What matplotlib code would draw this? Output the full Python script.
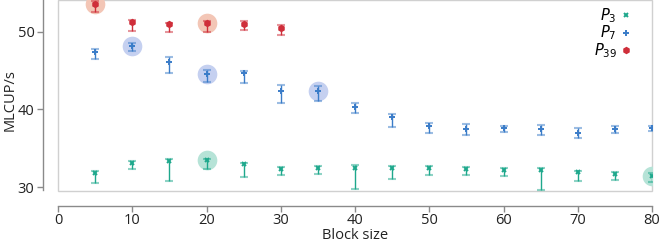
import matplotlib
matplotlib.use("Agg")
import matplotlib.pyplot as plt
from matplotlib.patches import Rectangle
import numpy as np

plt.rcParams['font.family'] = ['Open Sans', 'DejaVu Sans']

# Data
x_p3 = [5, 10, 15, 20, 25, 30, 35, 40, 45, 50, 55, 60, 65, 70, 75, 80]
p3_mean = [31.84, 33.08, 33.42, 33.47, 32.96, 32.35, 32.52, 32.52, 32.52, 32.44, 32.35, 32.26, 32.18, 31.93, 31.71, 31.45]
p3_lo = [30.51, 32.31, 30.81, 32.31, 31.36, 31.54, 31.75, 29.82, 31.10, 31.62, 31.54, 31.41, 29.65, 30.81, 30.94, 30.72]
p3_hi = [32.10, 33.34, 33.64, 33.68, 33.12, 32.65, 32.78, 32.90, 32.78, 32.78, 32.60, 32.52, 32.48, 32.13, 31.97, 31.80]

x_p7 = [5, 10, 15, 20, 25, 30, 35, 40, 45, 50, 55, 60, 65, 70, 75, 80]
p7_mean = [47.43, 48.20, 46.10, 44.52, 44.65, 42.38, 42.38, 40.32, 38.99, 37.92, 37.49, 37.58, 37.49, 36.94, 37.49, 37.62]
p7_lo = [46.45, 47.52, 44.73, 43.50, 43.40, 40.87, 41.10, 39.55, 37.71, 36.94, 36.76, 37.15, 36.72, 36.34, 36.94, 37.20]
p7_hi = [47.74, 48.59, 46.75, 45.08, 44.95, 43.15, 42.98, 40.83, 39.42, 38.26, 38.14, 37.88, 38.00, 37.62, 37.88, 37.92]

x_p39 = [5, 10, 15, 20, 25, 30]
p39_mean = [53.55, 51.20, 50.95, 51.08, 50.99, 50.47]
p39_lo = [52.55, 50.10, 49.90, 50.00, 50.20, 49.60]
p39_hi = [54.00, 51.50, 51.10, 51.40, 51.37, 50.86]

# highlighted points
hl_p3 = [20, 80]
hl_p7 = [10, 20, 35]
hl_p39 = [5, 20]

x_ticks = [0, 10, 20, 30, 40, 50, 60, 70, 80]
y_ticks = [30, 40, 50]

c3, c7, c39 = '#1ea88c', '#3a7cc8', '#cf2e3a'
h3, h7, h39 = '#b6e3d7', '#c5d0f0', '#f3c6b6'

fig = plt.figure(figsize=(6.64, 2.43), dpi=100)
ax = fig.add_axes([58/664, 52/243, 594/664, 191/243])
ax.set_xlim(0, 80)
ax.set_ylim(29.52, 54.07)

def highlight(xs, hx, means, col):
    hx_vals = [m for xv, m in zip(xs, means) if xv in hx]
    ax.scatter(hx, hx_vals, s=200, color=col, zorder=1, linewidths=0)

highlight(x_p3, hl_p3, p3_mean, h3)
highlight(x_p7, hl_p7, p7_mean, h7)
highlight(x_p39, hl_p39, p39_mean, h39)

def series(xs, m, lo, hi, col, marker, label, ms):
    m = np.array(m); lo = np.array(lo); hi = np.array(hi)
    err = np.vstack([m - lo, hi - m])
    ax.errorbar(xs, m, yerr=err, fmt='none', ecolor=col, elinewidth=1.0,
                capsize=0, zorder=2)
    # light caps
    ax.scatter(xs, lo, marker='_', s=30, color=col, alpha=0.5, linewidths=1.5, zorder=2)
    ax.scatter(xs, hi, marker='_', s=30, color=col, alpha=0.5, linewidths=1.5, zorder=2)
    ax.plot(xs, m, linestyle='none', marker=marker, color=col, ms=ms, mew=1.4,
            label=label, zorder=3)

series(x_p3, p3_mean, p3_lo, p3_hi, c3, 'x', r'$P_3$', 3.5)
series(x_p7, p7_mean, p7_lo, p7_hi, c7, '+', r'$P_7$', 4.5)
series(x_p39, p39_mean, p39_lo, p39_hi, c39, 'h', r'$P_{39}$', 3.8)

# frame
for s in ['top', 'right']:
    ax.spines[s].set_visible(False)
ax.add_patch(Rectangle((0, 0), 1, 1, transform=ax.transAxes, fill=False,
                       edgecolor='#d0d0d0', lw=1.0, zorder=0, clip_on=False))
ax.spines['left'].set_position(('outward', 11))
ax.spines['bottom'].set_position(('outward', 11))
for s in ['left', 'bottom']:
    ax.spines[s].set_color('#8a8a8a')
    ax.spines[s].set_linewidth(1.0)
ax.spines['left'].set_bounds(29.7, 54.07)

ax.set_xticks(x_ticks)
ax.set_yticks(y_ticks)
ax.tick_params(axis='both', colors='#8a8a8a', labelcolor='#222222', labelsize=10.5,
               length=4, width=1)
ax.tick_params(axis='y', pad=2)
ax.tick_params(axis='x', pad=1)
fig.text(355/664, 1 - 235/243, 'Block size', fontsize=10.5, color='#222222',
         ha='center', va='center')
fig.text(10/664, 1 - 100/243, 'MLCUP/s', rotation=90, fontsize=10.5,
         color='#222222', ha='center', va='center')

leg = ax.legend(loc='upper right', frameon=False, markerfirst=False, fontsize=10.5,
                handlelength=0.5, handletextpad=0.4, labelspacing=-0.1,
                borderaxespad=0.3, bbox_to_anchor=(0.98, 1.02))
for t in leg.get_texts():
    t.set_ha('right')

fig.savefig('out.png', dpi=100)
